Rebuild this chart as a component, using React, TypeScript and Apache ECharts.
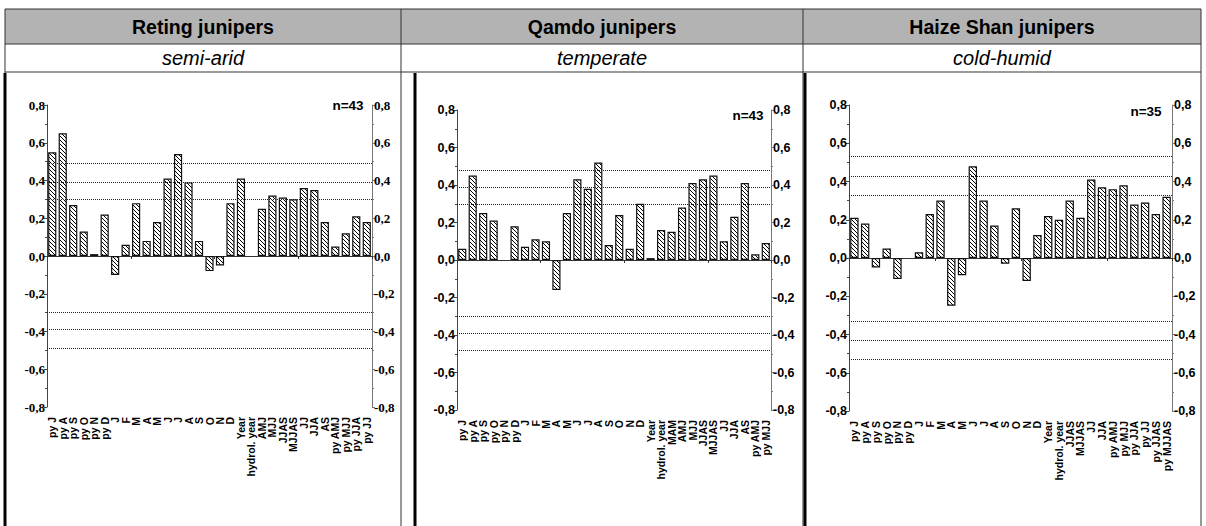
import React, { useEffect, useRef } from 'react';
import * as echarts from 'echarts';

const retingCategories = ['py J', 'py A', 'py S', 'py O', 'py N', 'py D', 'J', 'F', 'M', 'A', 'M', 'J', 'J', 'A', 'S', 'O', 'N', 'D', 'Year', 'hydrol. year', 'AMJ', 'MJJ', 'JJAS', 'MJJAS', 'JJ', 'JJA', 'AS', 'py AMJ', 'py MJJ', 'py JJA', 'py JJ'];
const retingValues = [0.55, 0.65, 0.27, 0.13, 0.01, 0.22, -0.10, 0.06, 0.28, 0.08, 0.18, 0.41, 0.54, 0.39, 0.08, -0.08, -0.05, 0.28, 0.41, null, 0.25, 0.32, 0.31, 0.30, 0.36, 0.35, 0.18, 0.05, 0.12, 0.21, 0.18];
const retingSignificance = [0.30, 0.39, 0.49];

const qamdoCategories = ['py J', 'py A', 'py S', 'py O', 'py N', 'py D', 'J', 'F', 'M', 'A', 'M', 'J', 'J', 'A', 'S', 'O', 'N', 'D', 'Year', 'hydrol. year', 'MAM', 'AMJ', 'MJJ', 'JJAS', 'MJJAS', 'JJ', 'JJA', 'AS', 'py AMJ', 'py MJJ'];
const qamdoValues = [0.06, 0.45, 0.25, 0.21, null, 0.18, 0.07, 0.11, 0.10, -0.16, 0.25, 0.43, 0.38, 0.52, 0.08, 0.24, 0.06, 0.30, 0.01, 0.16, 0.15, 0.28, 0.41, 0.43, 0.45, 0.10, 0.23, 0.41, 0.03, 0.09];
const qamdoSignificance = [0.30, 0.39, 0.485];

const haizeCategories = ['py J', 'py A', 'py S', 'py O', 'py N', 'py D', 'J', 'F', 'M', 'A', 'M', 'J', 'J', 'A', 'S', 'O', 'N', 'D', 'Year', 'hydrol. year', 'JJAS', 'MJJAS', 'JJ', 'JJA', 'py AMJ', 'py MJJ', 'py JJA', 'py JJ', 'py JJAS', 'py MJJAS'];
const haizeValues = [0.21, 0.18, -0.05, 0.05, -0.11, null, 0.03, 0.23, 0.30, -0.25, -0.09, 0.48, 0.30, 0.17, -0.03, 0.26, -0.12, 0.12, 0.22, 0.20, 0.30, 0.21, 0.41, 0.37, 0.36, 0.38, 0.28, 0.29, 0.23, 0.32];
const haizeSignificance = [0.33, 0.43, 0.53];

const titles = ['Reting junipers', 'Qamdo junipers', 'Haize Shan junipers'];
const climates = ['semi-arid', 'temperate', 'cold-humid'];
const sampleSizes = ['n=43', 'n=43', 'n=35'];

const fmt = (v: number) => (Math.abs(v) < 1e-9 ? '0,0' : v.toFixed(1).replace('.', ','));

function makeHatch() {
  const s = 4;
  const c = document.createElement('canvas');
  c.width = s;
  c.height = s;
  const ctx = c.getContext('2d')!;
  ctx.fillStyle = '#fff';
  ctx.fillRect(0, 0, s, s);
  ctx.strokeStyle = '#000';
  ctx.lineWidth = 1;
  ctx.beginPath();
  // backslash direction: top-left to bottom-right
  ctx.moveTo(-1, -1); ctx.lineTo(s + 1, s + 1);
  ctx.moveTo(-1, s - 1); ctx.lineTo(1, s + 1);
  ctx.moveTo(s - 1, -1); ctx.lineTo(s + 1, 1);
  ctx.stroke();
  return c;
}

export default function App() {
  const ref = useRef<HTMLDivElement>(null);
  useEffect(() => {
    if (!ref.current) return;
    const chart = echarts.init(ref.current, null, { renderer: 'svg' });
    const hatch = makeHatch();

    const panels = [
      { cats: retingCategories, vals: retingValues, sig: retingSignificance, grid: { left: 47, top: 105, width: 325, height: 302 }, nPos: [348, 105], yFont: 'Liberation Serif', ySize: 13 },
      { cats: qamdoCategories, vals: qamdoValues, sig: qamdoSignificance, grid: { left: 457, top: 110, width: 314, height: 300 }, nPos: [748, 115], yFont: 'Liberation Sans', ySize: 12.5 },
      { cats: haizeCategories, vals: haizeValues, sig: haizeSignificance, grid: { left: 849, top: 105, width: 323, height: 306 }, nPos: [1146, 111], yFont: 'Liberation Sans', ySize: 12.5 },
    ];

    const cols = [5, 401, 803, 1201];

    const xAxis: any[] = [];
    const yAxis: any[] = [];
    const series: any[] = [];
    panels.forEach((p, i) => {
      xAxis.push({
        type: 'category', gridIndex: i, data: p.cats, position: 'top',
        axisLine: { onZero: true, lineStyle: { color: '#333', width: 1 } },
        axisTick: { show: true, inside: true, length: 3, lineStyle: { color: '#333' } },
        axisLabel: { show: false }, splitLine: { show: false },
      });
      xAxis.push({
        type: 'category', gridIndex: i, data: p.cats, position: 'bottom',
        axisLine: { show: false, onZero: false }, axisTick: { show: false },
        axisLabel: { interval: 0, rotate: 90, fontSize: 10.5, fontWeight: 'bold', fontFamily: 'Liberation Sans', color: '#000', margin: 10 },
      });
      const yBase = (pos: string, color: string) => ({
        type: 'value', gridIndex: i, position: pos, min: -0.8, max: 0.8, interval: 0.2,
        axisLine: { show: true, lineStyle: { color, width: 1 } },
        axisTick: { show: true, length: 3, lineStyle: { color } },
        minorTick: { show: true, splitNumber: 2, length: 2, lineStyle: { color } },
        splitLine: { show: false },
        axisLabel: { formatter: fmt, color: '#000', fontWeight: 'bold', fontSize: p.ySize, fontFamily: p.yFont, margin: 2 },
      });
      yAxis.push(yBase('left', '#444'));
      yAxis.push(yBase('right', '#777'));
      const lines: any[] = [];
      p.sig.forEach((s) => { lines.push({ yAxis: s }); lines.push({ yAxis: -s }); });
      series.push({
        type: 'bar', xAxisIndex: 2 * i, yAxisIndex: 2 * i, data: p.vals, barCategoryGap: '22%',
        itemStyle: {
          color: { image: hatch, repeat: 'repeat', imageWidth: 4, imageHeight: 4 },
          borderColor: '#111', borderWidth: 1.2,
        },
        markLine: {
          silent: true, symbol: ['none', 'none'], label: { show: false },
          lineStyle: { type: 'dotted', color: '#222', width: 1 },
          emphasis: { disabled: true }, data: lines,
        },
      });
    });

    const graphic: any[] = [];
    graphic.push({ type: 'rect', shape: { x: cols[0], y: 9, width: cols[3] - cols[0], height: 35 }, style: { fill: '#b3b3b3' }, silent: true });
    [9, 44, 72].forEach((y) => graphic.push({ type: 'line', shape: { x1: cols[0], y1: y, x2: cols[3], y2: y }, style: { stroke: '#333', lineWidth: 1 } }));
    cols.forEach((x) => graphic.push({ type: 'line', shape: { x1: x, y1: 9, x2: x, y2: 526 }, style: { stroke: '#333', lineWidth: 1 } }));
    [5, 415, 805].forEach((x) => graphic.push({ type: 'rect', shape: { x: x - 1.5, y: 73, width: 3, height: 453 }, style: { fill: '#000' } }));
    titles.forEach((t, i) => {
      const cx = (cols[i] + cols[i + 1]) / 2;
      graphic.push({ type: 'text', x: cx, y: 27, style: { text: t, font: 'bold 19.5px "Liberation Sans"', fill: '#000', align: 'center', verticalAlign: 'middle' } });
      graphic.push({ type: 'text', x: cx, y: 58, style: { text: climates[i], font: 'italic 20px "Liberation Sans"', fill: '#000', align: 'center', verticalAlign: 'middle' } });
    });
    panels.forEach((p, i) => {
      graphic.push({ type: 'text', x: p.nPos[0], y: p.nPos[1], style: { text: sampleSizes[i], font: 'bold 13.5px "Liberation Sans"', fill: '#000', align: 'center', verticalAlign: 'middle' } });
    });

    chart.setOption({
      animation: false,
      backgroundColor: '#fff',
      grid: panels.map((p) => ({ ...p.grid })),
      xAxis, yAxis, series, graphic,
    });
    return () => chart.dispose();
  }, []);
  return <div ref={ref} style={{ position: 'fixed', left: 0, top: 0, width: 1206, height: 526, background: '#fff' }} />;
}
